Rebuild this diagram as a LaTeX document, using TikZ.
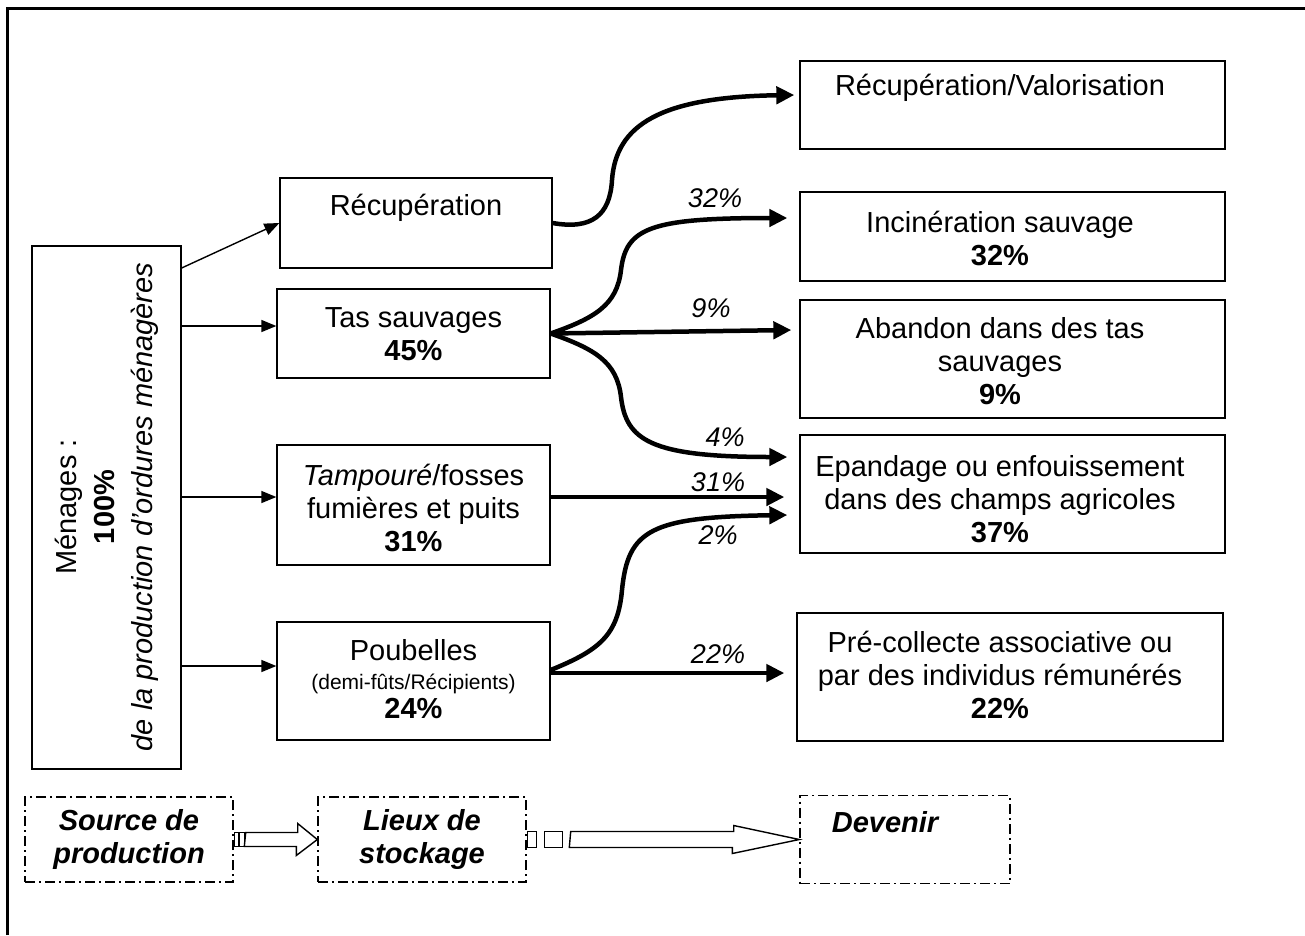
\documentclass[tikz,border=0pt]{standalone}
\usepackage{fontspec}
\setmainfont{Liberation Sans}
\usetikzlibrary{arrows.meta,calc}
\begin{document}
\begin{tikzpicture}[x=1pt,y=-1pt,
  box/.style={draw,line width=1.3pt,inner sep=0pt},
  txt/.style={align=center,inner sep=0pt,font=\fontsize{29}{33}\selectfont},
  pct/.style={inner sep=0pt,font=\fontsize{27}{32}\selectfont\itshape},
  thinarr/.style={line width=1.4pt,-{Triangle[length=15pt,width=12pt]}},
  thickarr/.style={line width=4.5pt,-{Triangle[length=18pt,width=17pt]}},
  dbox/.style={draw,line width=1.4pt,dash pattern=on 10pt off 4pt on 2pt off 4pt,inner sep=0pt},
  blk/.style={draw,line width=1.4pt,fill=white}]
\useasboundingbox (0,0) rectangle (1305,935);
% frame
\draw[line width=3pt] (7,935) -- (7,8) -- (1305,8);

% left column
\node[box,minimum width=149pt,minimum height=523pt] (men) at (106.5,507.5) {};
\node[txt,rotate=90,font=\fontsize{29}{38}\selectfont] (ment) at (107,507) {M\'enages :\\\textbf{100\%}\\\textit{de la production d’ordures m\'enag\`eres}};

% middle column
\node[box,minimum width=272pt,minimum height=90pt] (rec) at (416,223) {};
\node[txt] (rect) at (416,208) {R\'ecup\'eration};
\node[box,minimum width=273pt,minimum height=89pt] (tas) at (413.5,333.5) {};
\node[txt] (tast) at (413.5,334) {Tas sauvages\\\textbf{45\%}};
\node[box,minimum width=273pt,minimum height=120pt] (tam) at (413.5,505) {};
\node[txt] (tamt) at (413.5,508) {\textit{Tampour\'e}/fosses\\fumi\`eres et puits\\\textbf{31\%}};
\node[box,minimum width=273pt,minimum height=118pt] (pou) at (413.5,681) {};
\node[txt,font=\fontsize{29}{29}\selectfont] (pout) at (413.5,679) {Poubelles\\{\fontsize{21}{29}\selectfont (demi-f\^uts/R\'ecipients)}\\\textbf{24\%}};

% right column
\node[box,minimum width=425pt,minimum height=88pt] (val) at (1012.5,105) {};
\node[txt] (valt) at (1000,88) {R\'ecup\'eration/Valorisation};
\node[box,minimum width=425pt,minimum height=89pt] (inc) at (1012.5,236.5) {};
\node[txt] (inct) at (1000,238) {Incin\'eration sauvage\\\textbf{32\%}};
\node[box,minimum width=425pt,minimum height=118pt] (aba) at (1012.5,359) {};
\node[txt] (abat) at (1000,361.5) {Abandon dans des tas\\sauvages\\\textbf{9\%}};
\node[box,minimum width=425pt,minimum height=118pt] (epa) at (1012.5,494) {};
\node[txt] (epat) at (1000,499.5) {Epandage ou enfouissement\\dans des champs agricoles\\\textbf{37\%}};
\node[box,minimum width=426pt,minimum height=128pt] (pre) at (1010,677) {};
\node[txt] (pret) at (1000,674.5) {Pr\'e-collecte associative ou\\par des individus r\'emun\'er\'es\\\textbf{22\%}};

% thin arrows from Menages
\coordinate (m0) at ([yshift=239.5pt]men.east);
\coordinate (m1) at ([yshift=181.5pt]men.east);
\coordinate (m2) at ([yshift=10.5pt]men.east);
\coordinate (m3) at ([yshift=-158.5pt]men.east);
\draw[thinarr] (m0) -- (rec.west);
\draw[thinarr] (m1) -- (m1 -| tas.west);
\draw[thinarr] (m2) -- (m2 -| tam.west);
\draw[thinarr] (m3) -- (m3 -| pou.west);

% thick arrows
\draw[thickarr] (rec.east) .. controls (592,230) and (610,215) .. (612,180)
   .. controls (616,125) and (660,97) .. ([xshift=-5pt,yshift=10pt]val.west);
\draw[thickarr] (tas.east) .. controls (595,318) and (617,305) .. (621,270)
   .. controls (626,228) and (650,218) .. ([xshift=-12pt,yshift=18.5pt]inc.west);
\draw[thickarr] (tas.east) -- ([xshift=-8pt,yshift=29pt]aba.west);
\draw[thickarr] (tas.east) .. controls (595,349) and (617,362) .. (621,397)
   .. controls (626,440) and (650,457) .. ([xshift=-12pt,yshift=37pt]epa.west);
\draw[thickarr] ([yshift=8pt]tam.east) -- ([xshift=-15pt,yshift=-3pt]epa.west);
\draw[thickarr] ([yshift=11pt]pou.east) .. controls (600,650) and (618,635) .. (622,590)
   .. controls (628,530) and (650,517) .. ([xshift=-12pt,yshift=-21pt]epa.west);
\draw[thickarr] ([yshift=8pt]pou.east) -- ([xshift=-12pt,yshift=4pt]pre.west);

% percent labels
\node[pct] (p32) at (715,198) {32\%};
\node[pct] (p9) at (711,308) {9\%};
\node[pct] (p4) at (725,437) {4\%};
\node[pct] (p31) at (718,482) {31\%};
\node[pct] (p2) at (718,535) {2\%};
\node[pct] (p22) at (718,654) {22\%};

% bottom legend
\node[dbox,minimum width=208pt,minimum height=85pt] (src) at (129,839.5) {};
\node[txt,font=\fontsize{29}{33}\selectfont\bfseries\itshape] (srct) at (129,839) {Source de\\production};
\node[dbox,minimum width=208pt,minimum height=85pt] (lieu) at (422,839.5) {};
\node[txt,font=\fontsize{29}{33}\selectfont\bfseries\itshape] (lieut) at (422,839) {Lieux de\\stockage};
\node[dbox,minimum width=210pt,minimum height=88pt] (dev) at (905,839.5) {};
\node[txt,font=\fontsize{29}{33}\selectfont\bfseries\itshape] (devt) at (885,822) {Devenir};

\draw[blk] (src.east) ++(1,-7) rectangle ++(4,14);
\draw[blk] (src.east) ++(6,-7) rectangle ++(5,14);
\draw[blk] (src.east) ++(12,-7) -- ++(52,0) -- ++(0,-9) -- (lieu.west) -- ++(-21,16) -- ++(0,-9) -- ++(-52,0) -- cycle;

\draw[blk] (lieu.east) ++(1,-8) rectangle ++(9,16);
\draw[blk] (lieu.east) ++(18,-8) rectangle ++(18,16);
\draw[blk] (lieu.east) ++(44,-8) -- ++(163,0) -- ++(0,-6) -- (dev.west) -- ++(-67,14) -- ++(0,-6) -- ++(-163,0) -- cycle;
\end{tikzpicture}
\end{document}
